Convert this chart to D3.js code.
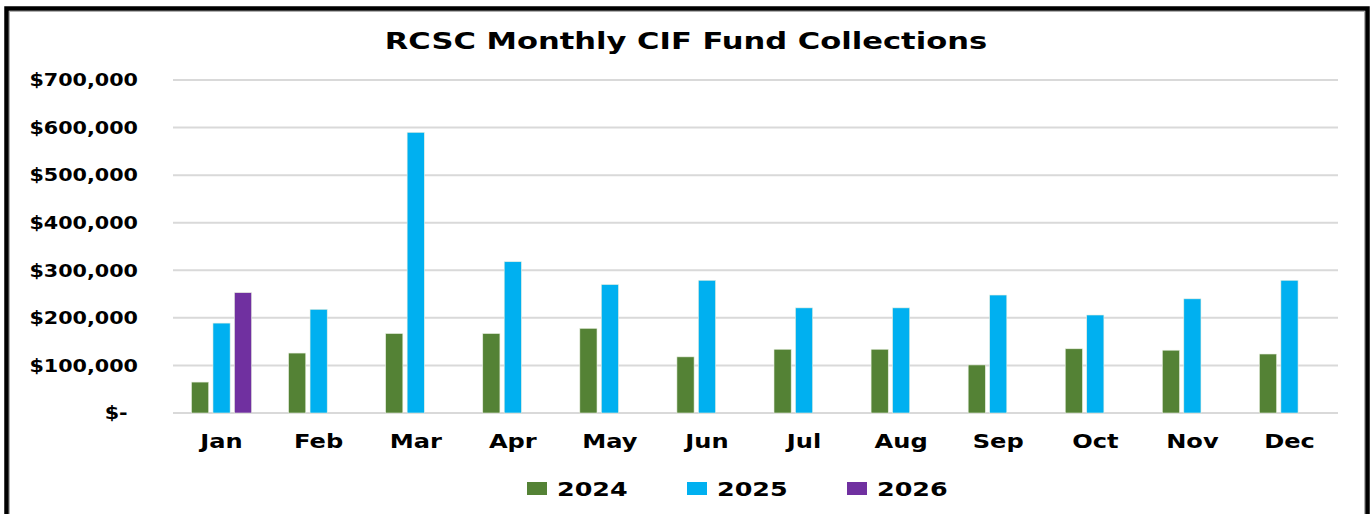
<!DOCTYPE html>
<html>
<head>
<meta charset="utf-8">
<script src="https://cdn.jsdelivr.net/npm/d3@7"></script>
<style>
  body { margin: 0; background: #fff; }
  text { font-family: "DejaVu Sans", sans-serif; font-weight: bold; fill: #000; }
</style>
</head>
<body>
<script>
"use strict";
// data
const months = ["Jan","Feb","Mar","Apr","May","Jun","Jul","Aug","Sep","Oct","Nov","Dec"];
const years = ["2024","2025","2026"];
const values2024 = [65000,126000,167000,167000,178000,118000,134000,134000,101000,135000,132000,124000];
const values2025 = [189000,218000,590000,318000,270000,279000,221000,221000,248000,206000,240000,279000];
const values2026 = [253000,null,null,null,null,null,null,null,null,null,null,null];
const yTicks = [0,100000,200000,300000,400000,500000,600000,700000];
const colors = ["#548235","#00b0f0","#7030a0"];

const W = 1371, H = 514;
const plotLeft = 173, plotRight = 1338, plotTop = 80, plotBottom = 413;

const series = [values2024, values2025, values2026];
const rows = months.map((m, i) => ({month: m, vals: years.map((yr, j) => ({year: yr, v: series[j][i]}))}));

const svg = d3.select("body").append("svg")
    .attr("width", W)
    .attr("height", H);

// frame
svg.append("rect")
    .attr("x", 6.5).attr("y", 8.5)
    .attr("width", 1361).attr("height", 530)
    .attr("fill", "#fff")
    .attr("stroke", "#000")
    .attr("stroke-width", 4.5);
svg.append("rect")
    .attr("x", 9.5).attr("y", 11.5)
    .attr("width", 1355).attr("height", 530)
    .attr("fill", "none")
    .attr("stroke", "#b0b0b0")
    .attr("stroke-width", 1);

const x0 = d3.scaleBand().domain(months).range([plotLeft, plotRight]);
const x1 = d3.scaleBand().domain(years).range([18.5, 78.6]).paddingInner(0.2);
const y = d3.scaleLinear().domain([0, 700000]).range([plotBottom, plotTop]);

// gridlines
svg.append("g").selectAll("line")
    .data(yTicks)
    .enter().append("line")
    .attr("x1", plotLeft).attr("x2", plotRight)
    .attr("y1", d => y(d)).attr("y2", d => y(d))
    .attr("stroke", "#d9d9d9")
    .attr("stroke-width", 2);

// y axis labels
const fmt = d3.format(",");
const yAxis = d3.axisLeft(y)
    .tickValues(yTicks)
    .tickSize(0)
    .tickPadding(0)
    .tickFormat(d => d === 0 ? "$-" : "$" + fmt(d));
const gy = svg.append("g")
    .attr("transform", "translate(138,0)")
    .call(yAxis);
gy.select(".domain").remove();
gy.selectAll("text")
    .attr("font-size", 18)
    .attr("font-family", "DejaVu Sans")
    .attr("font-weight", "bold")
    .attr("fill", "#000")
    .attr("x", d => d === 0 ? -9 : 0)
    .attr("transform", "scale(1.15,1)");

// bars
const groups = svg.append("g").selectAll("g")
    .data(rows)
    .enter().append("g")
    .attr("transform", d => "translate(" + x0(d.month) + ",0)");
groups.selectAll("rect")
    .data(d => d.vals.filter(e => e.v !== null))
    .enter().append("rect")
    .attr("x", d => x1(d.year))
    .attr("width", x1.bandwidth())
    .attr("y", d => y(d.v))
    .attr("height", d => y(0) - y(d.v))
    .attr("fill", d => colors[years.indexOf(d.year)])
    .attr("stroke", "#e8efe0")
    .attr("stroke-width", 0.6);

// x axis labels
const xAxis = d3.axisBottom(x0).tickSize(0).tickPadding(0);
const gx = svg.append("g")
    .attr("transform", "translate(0,448)")
    .call(xAxis);
gx.select(".domain").remove();
gx.selectAll("text")
    .attr("y", 0).attr("dy", 0)
    .attr("font-size", 19)
    .attr("font-family", "DejaVu Sans")
    .attr("font-weight", "bold")
    .attr("fill", "#000")
    .attr("transform", "scale(1.27,1)");

// title
svg.append("g")
    .attr("transform", "translate(686,49) scale(1.33,1)")
    .append("text")
    .attr("text-anchor", "middle")
    .attr("font-size", 23)
    .text("RCSC Monthly CIF Fund Collections");

// legend
const legendX = [527, 687, 847];
const legend = svg.append("g").selectAll("g")
    .data(years)
    .enter().append("g")
    .attr("transform", (d, i) => "translate(" + legendX[i] + ",482)");
legend.append("rect")
    .attr("width", 20).attr("height", 13)
    .attr("fill", (d, i) => colors[i]);
legend.append("g")
    .attr("transform", "translate(30,14) scale(1.27,1)")
    .append("text")
    .attr("font-size", 20)
    .text(d => d);
</script>
</body>
</html>
